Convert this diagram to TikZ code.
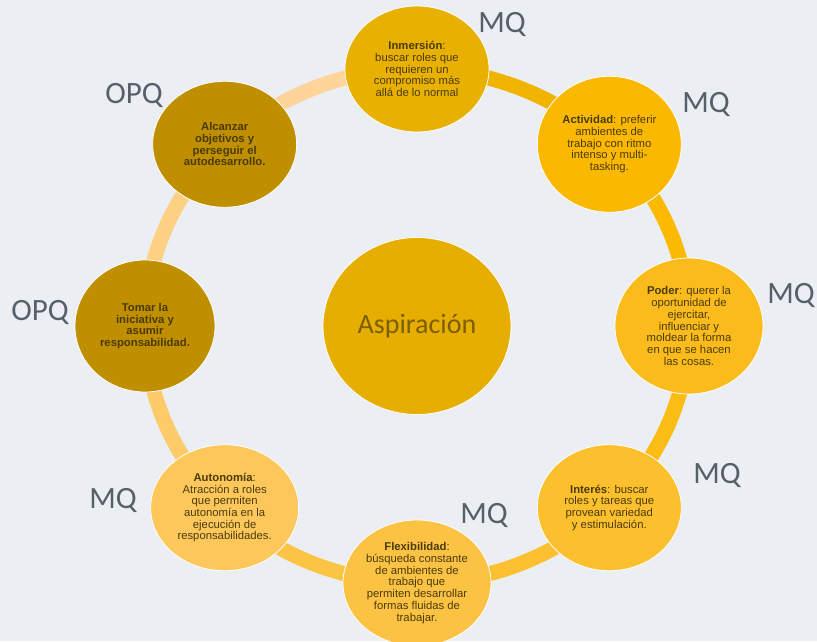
\documentclass[tikz,border=0pt]{standalone}
\usepackage{fontspec}
\setmainfont{Liberation Sans}
\newfontfamily\calfont{Carlito}
\usetikzlibrary{shapes.geometric}

\definecolor{bg}{HTML}{EBEEF2}
\definecolor{tagtxt}{HTML}{56606B}
\definecolor{bodytxt}{HTML}{4A3C0A}
\definecolor{darktxt}{HTML}{4B3A00}
\definecolor{asptxt}{HTML}{7D5F00}
% circle fills
\definecolor{fAsp}{HTML}{E6AE00}
\definecolor{fInm}{HTML}{E8B000}
\definecolor{fAct}{HTML}{FBB800}
\definecolor{fPod}{HTML}{FBBB1C}
\definecolor{fInt}{HTML}{FCBF2E}
\definecolor{fFlx}{HTML}{FCC244}
\definecolor{fAut}{HTML}{FDC75C}
\definecolor{fOpq}{HTML}{BF8F00}
% ring fills
\definecolor{rA}{HTML}{F0B400}
\definecolor{rB}{HTML}{FBB900}
\definecolor{rC}{HTML}{FBBC14}
\definecolor{rD}{HTML}{FCC030}
\definecolor{rE}{HTML}{FCC444}
\definecolor{rF}{HTML}{FDCB6A}
\definecolor{rG}{HTML}{FED084}
\definecolor{rH}{HTML}{FFD49A}

\tikzset{
  bubble/.style={ellipse, draw=white, line width=0.8pt,
    minimum width=144pt, minimum height=126pt, inner sep=0pt,
    align=center, text=bodytxt, font=\fontsize{11.3}{11.7}\selectfont},
  opqbubble/.style={bubble, fill=fOpq, text=darktxt,
    font=\bfseries\fontsize{11.3}{11.7}\selectfont},
  tag/.style={text=tagtxt, font=\calfont\fontsize{31}{31}\selectfont},
  ring/.style={line width=15pt},
}

\begin{document}
\begin{tikzpicture}[x=1pt, y=1pt]
  % background
  \fill[bg] (-417, -315) rectangle (400, 326);
  \useasboundingbox (-417, -315) rectangle (400, 326);

  % ring positions
  \coordinate (inmc) at ({272*cos(90)},   {257*sin(90)});
  \coordinate (actc) at ({272*cos(45)},   {257*sin(45)});
  \coordinate (podc) at ({272*cos(0)},    {257*sin(0)});
  \coordinate (intc) at ({272*cos(-45)},  {257*sin(-45)});
  \coordinate (flxc) at ({272*cos(-90)},  {257*sin(-90)});
  \coordinate (autc) at ({272*cos(-135)}, {257*sin(-135)});
  \coordinate (tomc) at ({272*cos(180)},  {257*sin(180)});
  \coordinate (alcc) at ({272*cos(135)},  {257*sin(135)});

  % ring segments
  \foreach \p/\a/\b/\c in {inmc/90/45/rA, actc/45/0/rB, podc/0/-45/rC,
      intc/-45/-90/rD, flxc/-90/-135/rE, autc/-135/-180/rF,
      tomc/180/135/rG, alcc/135/90/rH}
    \draw[ring, draw=\c] (\p)
      arc[start angle=\a, end angle=\b, x radius=272, y radius=257];

  % centre
  \node[ellipse, draw=white, line width=0.8pt, fill=fAsp,
    minimum width=188pt, minimum height=177pt, text=asptxt,
    font=\calfont\fontsize{28}{28}\selectfont] (asp) at (0, 0) {Aspiración};

  % circles
  \node[bubble, fill=fInm] (inm) at (inmc)
    {\textbf{Inmersión}:\\ buscar roles que\\ requieren un\\ compromiso más\\ allá de lo normal};
  \node[bubble, fill=fAct, minimum height=136pt] (act) at (actc)
    {\textbf{Actividad}: preferir\\ ambientes de\\ trabajo con ritmo\\ intenso y multi-\\ tasking.};
  \node[bubble, fill=fPod, minimum width=148pt, minimum height=136pt] (pod) at (podc)
    {\textbf{Poder}: querer la\\ oportunidad de\\ ejercitar,\\ influenciar y\\ moldear la forma\\ en que se hacen\\ las cosas.};
  \node[bubble, fill=fInt] (int) at (intc)
    {\textbf{Interés}: buscar\\ roles y tareas que\\ provean variedad\\ y estimulación.};
  \node[bubble, fill=fFlx, minimum width=148pt] (flx) at (flxc)
    {\textbf{Flexibilidad}:\\ búsqueda constante\\ de ambientes de\\ trabajo que\\ permiten desarrollar\\ formas fluidas de\\ trabajar.};
  \node[bubble, fill=fAut, minimum width=148pt] (aut) at (autc)
    {\textbf{Autonomía}:\\ Atracción a roles\\ que permiten\\ autonomía en la\\ ejecución de\\ responsabilidades.};
  \node[opqbubble, minimum width=140pt, minimum height=132pt] (tom) at (tomc)
    {Tomar la\\ iniciativa y\\ asumir\\ responsabilidad.};
  \node[opqbubble] (alc) at (alcc)
    {Alcanzar\\ objetivos y\\ perseguir el\\ autodesarrollo.};

  % scale labels
  \node[tag] (tinm) at (85, 302) {MQ};
  \node[tag] (tact) at (289, 222) {MQ};
  \node[tag] (tpod) at (374, 31) {MQ};
  \node[tag] (tint) at (300, -149) {MQ};
  \node[tag] (tflx) at (67, -189) {MQ};
  \node[tag] (taut) at (-304, -174) {MQ};
  \node[tag] (ttom) at (-377, 14) {OPQ};
  \node[tag] (talc) at (-283, 231) {OPQ};
\end{tikzpicture}
\end{document}
